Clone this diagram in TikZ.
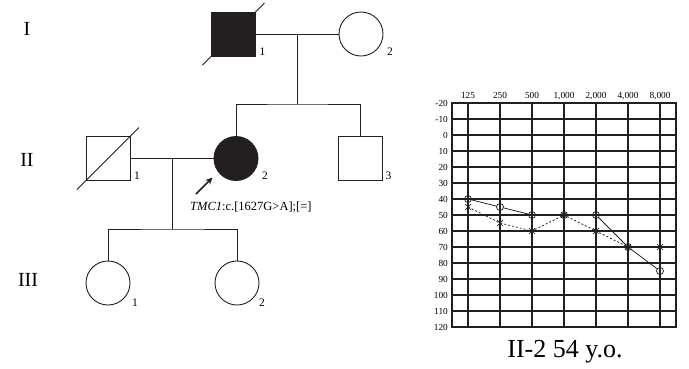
\documentclass[tikz,border=0pt]{standalone}
\usepackage{fontspec}
\setmainfont{Liberation Serif}
\usetikzlibrary{arrows.meta}
\definecolor{ink}{RGB}{35,31,32}
\tikzset{
    kin/.style={line width=0.9pt,draw=ink},
    male/.style={draw=ink,line width=0.9pt,minimum size=44pt,inner sep=0pt},
    female/.style={male,circle},
    affect/.style={fill=ink},
    idnum/.style={font=\fontsize{11.5}{11.5}\selectfont,inner sep=0pt},
    gen/.style={font=\fontsize{20}{20}\selectfont,inner sep=0pt},
    dblabel/.style={font=\fontsize{9.3}{9.3}\selectfont,inner sep=0pt},
    earline/.style={line width=0.75pt,draw=ink},
}
\newcommand\drawDeceased[1]{
    \draw[kin] ([shift={(-31,31)}]#1.center)--([shift={(31,-31)}]#1.center);
}
\newcommand\markRight[2]{
    \draw[earline] (#1,#2) circle (3.5);
}
\newcommand\markLeft[2]{
    \draw[earline,line width=0.7pt] (#1-3,#2-3)--(#1+3,#2+3);
    \draw[earline,line width=0.7pt] (#1-3,#2+3)--(#1+3,#2-3);
}
\begin{document}
\begin{tikzpicture}[x=1pt,y=-1pt]
    \useasboundingbox (0,0) rectangle (689,368);
    % generations
    \node[gen] (genI) at (27,28.5) {I};
    \node[gen] (genII) at (27,160) {II};
    \node[gen] (genIII) at (28,280) {III};

    % generation I
    \node[male,affect] (I1) at (233.5,34) {};
    \node[female] (I2) at (361,34) {};
    \drawDeceased{I1}
    \node[idnum] at ([shift={(29,18)}]I1.center) {1};
    \node[idnum] at ([shift={(29,18)}]I2.center) {2};

    % generation II
    \node[male] (II1) at (108,158.5) {};
    \node[female,affect] (II2) at (236,158.5) {};
    \node[male] (II3) at (360.5,158.5) {};
    \drawDeceased{II1}
    \node[idnum] at ([shift={(29,17)}]II1.center) {1};
    \node[idnum] at ([shift={(29,17)}]II2.center) {2};
    \node[idnum] at ([shift={(28,17)}]II3.center) {3};

    % generation III
    \node[female] (III1) at (108,283) {};
    \node[female] (III2) at (237,283) {};
    \node[idnum] at ([shift={(27,20)}]III1.center) {1};
    \node[idnum] at ([shift={(25,20)}]III2.center) {2};

    % lines of descent
    \coordinate (mI) at (297,34);
    \coordinate (sI) at (297,104);
    \draw[kin] (I1.east) -- (I2.west);
    \draw[kin] (mI) -- (sI);
    \draw[kin] (II2.north) |- (sI) -| (II3.north);
    \coordinate (mII) at (172,158.5);
    \coordinate (sII) at (172,229);
    \draw[kin] (II1.east) -- (II2.west);
    \draw[kin] (mII) -- (sII);
    \draw[kin] (III1.north) |- (sII) -| (III2.north);

    % proband
    \coordinate (pointtail) at (196,194);
    \coordinate (pointtip) at (212.5,177.5);
    \draw[-{Stealth[length=7pt,width=6.5pt]},line width=1.6pt,ink] (pointtail) -- (pointtip);
    \node[font=\fontsize{12.5}{12.5}\selectfont,anchor=west,inner sep=0pt] (variant) at (190,207)
        {\textit{TMC1}:c.[1627G>A];[=]};

    % audiogram
    \begin{scope}[shift={(452,103)}]
        \foreach \i in {1,...,13}
            \draw[line width=1.1pt,ink] (0,16*\i) -- (224,16*\i);
        \foreach \i in {0,...,6}
            \draw[line width=1.1pt,ink] (16+32*\i,0) -- (16+32*\i,224);
        \draw[line width=1.5pt,ink] (0,0) rectangle (224,224);
        \foreach \db [count=\i from 0] in {-20,-10,...,120}
            \node[dblabel,anchor=east] at (-4,16*\i) {\db};
        \foreach \f [count=\i from 0] in {125,250,500,{1,000},{2,000},{4,000},{8,000}}
            \node[dblabel,anchor=base] at (16+32*\i,-4.7) {\f};
        % left ear
        \draw[earline,line width=0.7pt,dash pattern=on 2pt off 2pt]
            plot coordinates {(16,104) (48,120) (80,128) (112,112) (144,128) (176,144) (208,144)};
        % right ear
        \foreach \xa/\ya/\xb/\yb in {16/96/48/104,48/104/80/112,80/112/112/112,112/112/144/112,144/112/176/144,176/144/208/168}
            \draw[earline,shorten <=3.5pt,shorten >=3.5pt] (\xa,\ya) -- (\xb,\yb);
        \foreach \x/\y in {16/96,48/104,80/112,112/112,144/112,176/144,208/168}
        {
            \markRight{\x}{\y}
        }
        \foreach \x/\y in {16/104,48/120,80/128,112/112,144/128,176/144,208/144}
        {
            \markLeft{\x}{\y}
        }
    \end{scope}
    \node[font=\fontsize{26}{26}\selectfont,anchor=base,inner sep=0pt] (caption) at (565,357) {II-2 54 y.o.};
\end{tikzpicture}
\end{document}
